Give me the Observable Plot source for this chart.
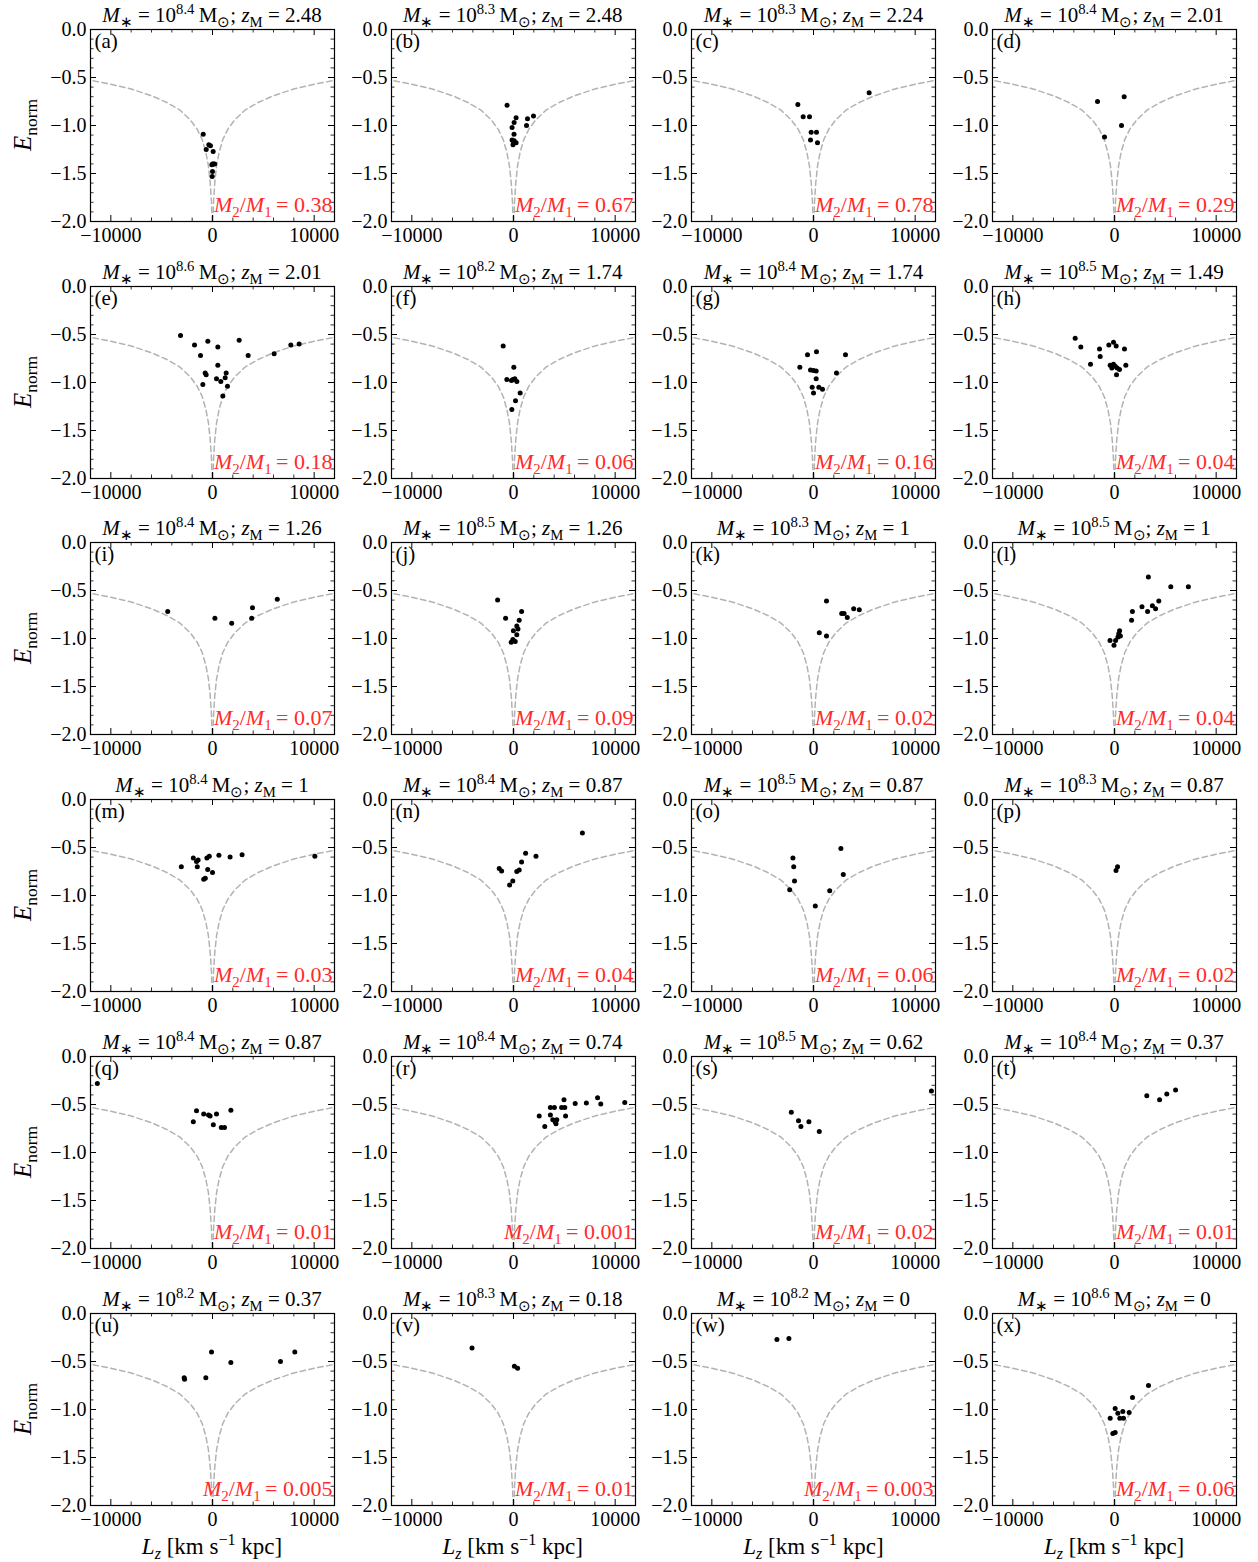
<!DOCTYPE html>
<html><head><meta charset="utf-8">
<script src="https://cdn.jsdelivr.net/npm/d3@7"></script>
<script src="https://cdn.jsdelivr.net/npm/@observablehq/plot@0.6"></script>
<style>
body{margin:0;background:#fff;}
#fig{position:relative;width:1258px;height:1562px;font-family:"Liberation Serif",serif;color:#000;overflow:hidden;}
.title{position:absolute;font-size:21px;line-height:21px;white-space:nowrap;transform:translateX(-50%);}
.title sup,.title sub,.lab sup,.lab sub{font-size:70%;line-height:0;}
.lab{position:absolute;font-size:23px;line-height:23px;white-space:nowrap;}
.panel{position:absolute;}
.panel svg{overflow:visible;font-family:"Liberation Serif",serif;}
.panel svg text{font-family:"Liberation Serif",serif;}
</style></head><body><div id="fig"></div>
<script>
// ---------- data ----------
const panelLetters = ["a","b","c","d","e","f","g","h","i","j","k","l","m","n","o","p","q","r","s","t","u","v","w","x"];
const massExp = ["8.4","8.3","8.3","8.4","8.6","8.2","8.4","8.5","8.4","8.5","8.3","8.5","8.4","8.4","8.5","8.3","8.4","8.4","8.5","8.4","8.2","8.3","8.2","8.6"];
const zMerge = ["2.48","2.48","2.24","2.01","2.01","1.74","1.74","1.49","1.26","1.26","1","1","1","0.87","0.87","0.87","0.87","0.74","0.62","0.37","0.37","0.18","0","0"];
const massRatio = ["0.38","0.67","0.78","0.29","0.18","0.06","0.16","0.04","0.07","0.09","0.02","0.04","0.03","0.04","0.06","0.02","0.01","0.001","0.02","0.01","0.005","0.01","0.003","0.06"];

const xTickLabels = [-10000, 0, 10000];
const xMinorTicks = [-12000,-8000,-6000,-4000,-2000,2000,4000,6000,8000,12000];
const yTickLabels = [0, -0.5, -1.0, -1.5, -2.0];
const yMinorTicks = [-0.1,-0.2,-0.3,-0.4,-0.6,-0.7,-0.8,-0.9,-1.1,-1.2,-1.3,-1.4,-1.6,-1.7,-1.8,-1.9];

// dashed reference curve (positive Lz branch, mirrored for negative Lz)
const curveLz = [30, 100, 220, 400, 650, 1000, 1500, 2200, 3200, 4500, 6000, 8000, 10000, 12000];
const curveE  = [-2.0, -1.8, -1.6, -1.42, -1.28, -1.15, -1.04, -0.94, -0.84, -0.76, -0.69, -0.62, -0.57, -0.53];

const ptsA = [[-915,-1.09],[-620,-1.25],[-360,-1.20],[-200,-1.21],[65,-1.27],[0,-1.40],[90,-1.40],[215,-1.40],[-65,-1.41],[0,-1.48],[-30,-1.53]];
const ptsB = [[-630,-0.79],[256,-0.92],[60,-0.97],[-140,-1.02],[50,-1.09],[-140,-1.15],[0,-1.17],[70,-1.16],[256,-1.18],[-50,-1.20],[1375,-0.93],[1280,-1.0],[1966,-0.90]];
const ptsC = [[-1540,-0.78],[-1015,-0.91],[-393,-0.91],[-230,-1.07],[295,-1.07],[-295,-1.15],[393,-1.18],[5473,-0.66]];
const ptsD = [[-1672,-0.75],[951,-0.70],[688,-1.0],[-983,-1.12]];
const ptsE = [[-3147,-0.51],[-1770,-0.61],[-459,-0.57],[-1180,-0.72],[524,-0.63],[2622,-0.56],[3506,-0.72],[524,-0.82],[-721,-0.90],[-623,-0.92],[-951,-1.02],[393,-0.96],[819,-0.99],[1344,-0.90],[1246,-0.95],[1475,-1.04],[1016,-1.14],[6063,-0.70],[7702,-0.61],[8522,-0.60]];
const ptsF = [[-1016,-0.62],[33,-0.84],[-656,-0.97],[-197,-0.98],[-66,-0.97],[131,-0.96],[328,-0.99],[656,-1.11],[197,-1.19],[-164,-1.28]];
const ptsG = [[-590,-0.71],[295,-0.68],[3147,-0.71],[-1344,-0.84],[-295,-0.87],[0,-0.875],[262,-0.88],[2262,-0.90],[262,-0.96],[-131,-1.05],[524,-1.05],[885,-1.07],[0,-1.11]];
const ptsH = [[-3868,-0.54],[-3311,-0.63],[-1475,-0.65],[-1409,-0.73],[-2360,-0.81],[-557,-0.61],[-98,-0.58],[164,-0.62],[983,-0.65],[1114,-0.82],[-426,-0.82],[-98,-0.81],[-262,-0.85],[66,-0.83],[262,-0.85],[492,-0.865],[197,-0.92]];
const ptsI = [[-4405,-0.72],[236,-0.79],[1888,-0.84],[3933,-0.68],[3855,-0.79],[6372,-0.59]];
const ptsJ = [[-1563,-0.60],[-777,-0.79],[796,-0.72],[560,-0.81],[324,-0.87],[440,-0.90],[-10,-0.92],[324,-0.96],[-60,-1.01],[-226,-1.04],[170,-1.03]];
const ptsK = [[1278,-0.61],[570,-0.94],[1278,-0.975],[2773,-0.74],[3010,-0.74],[3323,-0.78],[3953,-0.69],[4503,-0.70]];
const ptsL = [[3333,-0.36],[5536,-0.46],[7266,-0.46],[4356,-0.61],[3726,-0.66],[2704,-0.67],[3255,-0.72],[4040,-0.69],[1760,-0.72],[1681,-0.81],[501,-0.92],[420,-0.95],[340,-0.985],[108,-1.02],[-442,-1.02],[-50,-1.07],[580,-0.975]];
const ptsM = [[-3067,-0.70],[-1888,-0.61],[-1573,-0.645],[-1494,-0.70],[-1416,-0.63],[-551,-0.61],[-315,-0.59],[-472,-0.73],[-708,-0.82],[-865,-0.83],[0,-0.76],[629,-0.58],[1730,-0.60],[2910,-0.575],[10069,-0.59]];
const ptsN = [[6775,-0.35],[1190,-0.56],[2212,-0.59],[796,-0.65],[-1406,-0.72],[-1170,-0.745],[560,-0.735],[324,-0.75],[-70,-0.85],[-383,-0.89]];
const ptsO = [[2694,-0.51],[-2025,-0.61],[-1947,-0.70],[-1868,-0.85],[-2340,-0.94],[2930,-0.78],[1593,-0.95],[177,-1.11]];
const ptsP = [[300,-0.70],[150,-0.74]];
const ptsQ = [[-11327,-0.28],[-1573,-0.565],[-1888,-0.68],[-865,-0.60],[-393,-0.61],[-236,-0.62],[393,-0.60],[80,-0.71],[865,-0.74],[1180,-0.74],[1809,-0.56]];
const ptsR = [[2527,-0.62],[3078,-0.73],[3628,-0.61],[3628,-0.53],[4022,-0.53],[3864,-0.66],[4100,-0.68],[4258,-0.66],[4180,-0.70],[4730,-0.53],[5044,-0.53],[4966,-0.45],[5123,-0.62],[6067,-0.49],[7168,-0.485],[8269,-0.43],[8584,-0.495],[10944,-0.48]];
const ptsS = [[-2183,-0.58],[-1475,-0.67],[-1239,-0.73],[-452,-0.68],[570,-0.78],[11600,-0.36]];
const ptsT = [[3176,-0.41],[4435,-0.45],[5143,-0.39],[6008,-0.35]];
const ptsU = [[-2786,-0.67],[-2750,-0.685],[-656,-0.67],[-98,-0.40],[1803,-0.51],[6686,-0.50],[8096,-0.40]];
const ptsV = [[-4081,-0.36],[88,-0.55],[403,-0.57]];
const ptsW = [[-3599,-0.27],[-2419,-0.26]];
const ptsX = [[3343,-0.75],[1770,-0.875],[66,-0.99],[-426,-1.09],[328,-1.04],[524,-1.09],[819,-1.02],[885,-1.09],[1442,-1.03],[-164,-1.25],[66,-1.24]];

const panelPoints = [ptsA,ptsB,ptsC,ptsD,ptsE,ptsF,ptsG,ptsH,ptsI,ptsJ,ptsK,ptsL,ptsM,ptsN,ptsO,ptsP,ptsQ,ptsR,ptsS,ptsT,ptsU,ptsV,ptsW,ptsX];

// ---------- layout ----------
const PW = 244, PH = 192;
const ML = 64, MR = 14, MT = 8, MB = 34;
const colLeft = c => 90 + c * 300.7;
const rowTop = r => 29 + r * 256.7;
const FONT = "Liberation Serif";
const fig = document.getElementById("fig");

const curveRight = curveLz.map((L, i) => ({L, E: curveE[i]}));
const curveLeft = curveLz.map((L, i) => ({L: -L, E: curveE[i]}));
const fmtX = d => d < 0 ? "\u2212" + (-d) : String(d);
const fmtY = d => d === 0 ? "0.0" : "\u2212" + Math.abs(d).toFixed(1);

function panel(i) {
  const c = i % 4, r = Math.floor(i / 4);
  const pts = panelPoints[i];
  const curveStyle = {x: "L", y: "E", stroke: "#b3b3b3", strokeWidth: 1.5, strokeDasharray: "5.5,3.5"};
  const chart = Plot.plot({
    width: PW + ML + MR, height: PH + MT + MB,
    marginLeft: ML, marginRight: MR, marginTop: MT, marginBottom: MB,
    style: {fontFamily: FONT, fontSize: "20px", background: "transparent", overflow: "visible", color: "black"},
    x: {domain: [-12000, 12000]},
    y: {domain: [-2, 0]},
    marks: [
      Plot.line(curveLeft, curveStyle),
      Plot.line(curveRight, curveStyle),
      Plot.dot(pts, {x: d => d[0], y: d => d[1], r: 2.5, fill: "black", stroke: "none"}),
      Plot.axisX({ticks: xTickLabels, tickSize: 0, tickPadding: 6, tickFormat: fmtX, label: null, fontSize: 20}),
      Plot.axisY({ticks: yTickLabels, tickSize: 0, tickPadding: 4, tickFormat: fmtY, label: null, fontSize: 20}),
      // inward major/minor ticks on all four spines
      Plot.tickX(xTickLabels, {x: d => d, insetTop: PH - 6, stroke: "black", strokeWidth: 1}),
      Plot.tickX(xTickLabels, {x: d => d, insetBottom: PH - 6, stroke: "black", strokeWidth: 1}),
      Plot.tickX(xMinorTicks, {x: d => d, insetTop: PH - 3.5, stroke: "black", strokeWidth: 0.8}),
      Plot.tickX(xMinorTicks, {x: d => d, insetBottom: PH - 3.5, stroke: "black", strokeWidth: 0.8}),
      Plot.tickY(yTickLabels, {y: d => d, insetRight: PW - 6, stroke: "black", strokeWidth: 1}),
      Plot.tickY(yTickLabels, {y: d => d, insetLeft: PW - 6, stroke: "black", strokeWidth: 1}),
      Plot.tickY(yMinorTicks, {y: d => d, insetRight: PW - 3.5, stroke: "black", strokeWidth: 0.8}),
      Plot.tickY(yMinorTicks, {y: d => d, insetLeft: PW - 3.5, stroke: "black", strokeWidth: 0.8}),
      Plot.frame({stroke: "black", strokeWidth: 1.2}),
      Plot.text([panelLetters[i]], {frameAnchor: "top-left", text: d => `(${d})`, dx: 4, dy: 4, textAnchor: "start", lineAnchor: "top", fill: "black", fontSize: 21}),
      Plot.text([massRatio[i]], {frameAnchor: "bottom-right", text: d => "M\u2082/M\u2081 = " + d, dx: -2, dy: -10, textAnchor: "end", lineAnchor: "bottom", fill: "#ff2b2b", fontSize: 22})
    ]
  });
  // rich text for the red mass-ratio label
  d3.select(chart).selectAll("text").each(function() {
    const t = this.textContent;
    if (t.startsWith("M\u2082/M\u2081")) {
      const val = t.split("= ")[1];
      const sel = d3.select(this);
      sel.text(null);
      sel.append("tspan").attr("font-style", "italic").text("M");
      sel.append("tspan").attr("font-size", "15px").attr("dy", 5).text("2");
      sel.append("tspan").attr("dy", -5).text("/");
      sel.append("tspan").attr("font-style", "italic").text("M");
      sel.append("tspan").attr("font-size", "15px").attr("dy", 5).text("1");
      sel.append("tspan").attr("dy", -5).text("\u2009= " + val);
    }
  });
  const div = document.createElement("div");
  div.className = "panel";
  div.style.left = (colLeft(c) - ML) + "px";
  div.style.top = (rowTop(r) - MT) + "px";
  div.appendChild(chart);
  fig.appendChild(div);

  const title = document.createElement("div");
  title.className = "title";
  title.style.left = (colLeft(c) + PW / 2) + "px";
  title.style.top = (rowTop(r) - 24) + "px";
  title.innerHTML = `<i>M</i><sub>\u2217</sub> = 10<sup>${massExp[i]}</sup>\u2009M<sub>\u2299</sub>; <i>z</i><sub>M</sub> = ${zMerge[i]}`;
  fig.appendChild(title);

  if (c === 0) {
    const yl = document.createElement("div");
    yl.className = "lab";
    yl.style.left = "22px";
    yl.style.top = (rowTop(r) + PH / 2) + "px";
    yl.style.transform = "translate(-50%,-50%) rotate(-90deg)";
    yl.style.fontSize = "25px";
    yl.innerHTML = `<i>E</i><sub>norm</sub>`;
    fig.appendChild(yl);
  }
  if (r === 5) {
    const xl = document.createElement("div");
    xl.className = "lab";
    xl.style.left = (colLeft(c) + PW / 2) + "px";
    xl.style.top = "1546px";
    xl.style.transform = "translate(-50%,-50%)";
    xl.innerHTML = `<i>L<sub>z</sub></i> [km s<sup>\u22121</sup> kpc]`;
    fig.appendChild(xl);
  }
}
for (let i = 0; i < 24; i++) panel(i);
</script>
</body></html>
